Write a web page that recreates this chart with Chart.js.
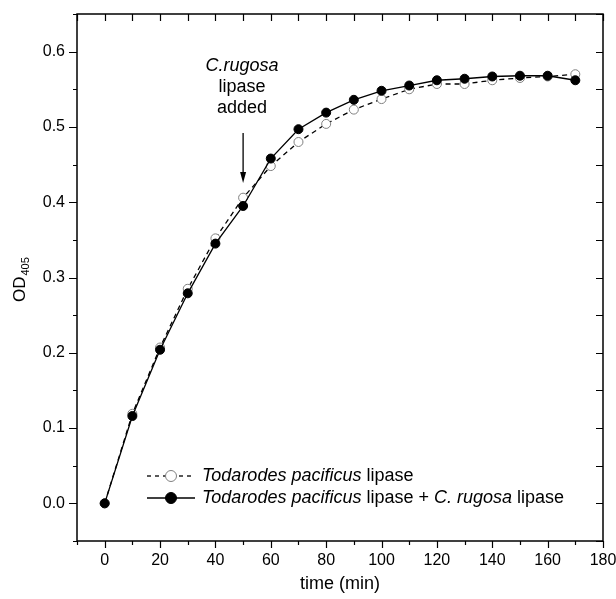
<!DOCTYPE html>
<html>
<head>
<meta charset="utf-8">
<script src="https://cdn.jsdelivr.net/npm/chart.js@4.4.0/dist/chart.umd.min.js"></script>
<style>
  html, body { margin: 0; padding: 0; background: #fff; }
</style>
</head>
<body>
<canvas id="odChart" width="616" height="599"></canvas>
<script>
  // time points (min)
  var times = [0, 10, 20, 30, 40, 50, 60, 70, 80, 90, 100, 110, 120, 130, 140, 150, 160, 170];
  // Todarodes pacificus lipase only
  var tpLipase = [0, 0.119, 0.207, 0.285, 0.352, 0.406, 0.448, 0.480, 0.504, 0.523, 0.537, 0.550, 0.557, 0.557, 0.562, 0.565, 0.567, 0.570];
  // Todarodes pacificus lipase + C. rugosa lipase
  var tpPlusCr = [0, 0.116, 0.204, 0.279, 0.345, 0.395, 0.458, 0.497, 0.519, 0.536, 0.548, 0.555, 0.562, 0.564, 0.567, 0.568, 0.568, 0.562];

  var xTicks = [0, 20, 40, 60, 80, 100, 120, 140, 160, 180];
  var yTicks = [0, 0.1, 0.2, 0.3, 0.4, 0.5, 0.6];
  var addedAt = 50; // time when C. rugosa lipase was added

  var FONT = "'Liberation Sans', Arial, sans-serif";

  function toPoints(ys) {
    return times.map(function(t, i) { return { x: t, y: ys[i] }; });
  }

  // frame + ticks like the original plot (outward bottom/left, inward top/right)
  var framePlugin = {
    id: 'frame',
    afterDraw: function(chart) {
      var ctx = chart.ctx;
      var xs = chart.scales.x, ys = chart.scales.y;
      var L = xs.getPixelForValue(xs.min), R = xs.getPixelForValue(xs.max);
      var T = ys.getPixelForValue(ys.max), B = ys.getPixelForValue(ys.min);
      ctx.save();
      ctx.strokeStyle = '#000';
      ctx.lineWidth = 1.5;
      ctx.strokeRect(L, T, R - L, B - T);
      ctx.lineWidth = 1.2;
      ctx.beginPath();
      for (var v = -10; v <= 180; v += 10) {
        var px = Math.round(xs.getPixelForValue(v)) + 0.5;
        var major = v % 20 === 0;
        ctx.moveTo(px, B); ctx.lineTo(px, B + (major ? 7 : 4));
        ctx.moveTo(px, T); ctx.lineTo(px, T + 7);
      }
      for (var k = -1; k <= 13; k++) {
        var val = k * 0.05;
        var py = Math.round(ys.getPixelForValue(val)) + 0.5;
        var maj = k % 2 === 0;
        ctx.moveTo(L, py); ctx.lineTo(L - (maj ? 8 : 4), py);
        ctx.moveTo(R, py); ctx.lineTo(R - 7, py);
      }
      ctx.stroke();

      // y axis title OD405
      ctx.fillStyle = '#000';
      ctx.translate(20, 302);
      ctx.rotate(-Math.PI / 2);
      ctx.font = '17px ' + FONT;
      ctx.textBaseline = 'middle';
      ctx.textAlign = 'left';
      ctx.fillText('OD', 0, 0);
      var w = ctx.measureText('OD').width;
      ctx.font = '11px ' + FONT;
      ctx.fillText('405', w + 1, 6);
      ctx.restore();
    }
  };

  function drawMixed(ctx, parts, x, y, size) {
    parts.forEach(function(p) {
      ctx.font = (p.i ? 'italic ' : '') + size + 'px ' + FONT;
      ctx.fillText(p.t, x, y);
      x += ctx.measureText(p.t).width;
    });
  }

  var legendRows = [
    { parts: [{ t: 'Todarodes pacificus', i: true }, { t: ' lipase' }], dash: [4, 4], fill: '#fff', stroke: '#808080' },
    { parts: [{ t: 'Todarodes pacificus', i: true }, { t: ' lipase + ' }, { t: 'C. rugosa', i: true }, { t: ' lipase' }], dash: [], fill: '#000', stroke: '#000' }
  ];

  var notesPlugin = {
    id: 'notes',
    afterDraw: function(chart) {
      var ctx = chart.ctx;
      ctx.save();
      ctx.fillStyle = '#000';
      ctx.textBaseline = 'middle';

      // legend
      legendRows.forEach(function(r, i) {
        var y = 476 + i * 22;
        ctx.strokeStyle = '#000';
        ctx.lineWidth = 1.3;
        ctx.setLineDash(r.dash);
        ctx.beginPath();
        ctx.moveTo(147, y); ctx.lineTo(195, y);
        ctx.stroke();
        ctx.setLineDash([]);
        ctx.beginPath();
        ctx.arc(171, y, 5.5, 0, Math.PI * 2);
        ctx.fillStyle = r.fill;
        ctx.fill();
        ctx.strokeStyle = r.stroke;
        ctx.lineWidth = 1;
        ctx.stroke();
        ctx.fillStyle = '#000';
        ctx.textAlign = 'left';
        drawMixed(ctx, r.parts, 202, y, 18);
      });

      // annotation
      var ax = chart.scales.x.getPixelForValue(addedAt);
      ctx.textAlign = 'center';
      ctx.font = 'italic 18px ' + FONT;
      ctx.fillText('C.rugosa', ax - 1, 66);
      ctx.font = '18px ' + FONT;
      ctx.fillText('lipase', ax - 1, 87);
      ctx.fillText('added', ax - 1, 108);
      ctx.strokeStyle = '#000';
      ctx.lineWidth = 1.3;
      ctx.beginPath();
      ctx.moveTo(ax, 133); ctx.lineTo(ax, 174);
      ctx.stroke();
      ctx.beginPath();
      ctx.moveTo(ax - 3, 172); ctx.lineTo(ax + 3, 172); ctx.lineTo(ax, 183);
      ctx.closePath();
      ctx.fill();
      ctx.restore();
    }
  };

  var odChart = new Chart(document.getElementById('odChart'), {
    type: 'line',
    data: {
      datasets: [{
        label: 'Todarodes pacificus lipase',
        data: toPoints(tpLipase),
        borderColor: '#000',
        borderWidth: 1.3,
        borderDash: [5, 4],
        pointRadius: 4.5,
        pointBorderWidth: 1,
        pointBorderColor: '#808080',
        pointBackgroundColor: '#fff',
        order: 1
      }, {
        label: 'Todarodes pacificus lipase + C. rugosa lipase',
        data: toPoints(tpPlusCr),
        borderColor: '#000',
        borderWidth: 1.3,
        pointRadius: 4.5,
        pointBorderWidth: 1,
        pointBorderColor: '#000',
        pointBackgroundColor: '#000',
        order: 0
      }]
    },
    options: {
      responsive: false,
      animation: false,
      layout: { padding: { top: 14, right: 13, left: 0, bottom: 0 } },
      plugins: { legend: { display: false }, tooltip: { enabled: false } },
      scales: {
        x: {
          type: 'linear',
          min: -10,
          max: 180,
          afterFit: function(s) { s.height = 58; s.paddingLeft = 0; s.paddingRight = 0; },
          afterBuildTicks: function(s) { s.ticks = xTicks.map(function(v) { return { value: v }; }); },
          grid: { display: false, drawTicks: false },
          border: { display: false },
          ticks: { color: '#000', font: { family: FONT, size: 16 }, padding: 10, maxRotation: 0, autoSkip: false },
          title: { display: true, text: 'time (min)', color: '#000', font: { family: FONT, size: 18 }, padding: { top: 0, bottom: 4 } }
        },
        y: {
          type: 'linear',
          min: -0.05,
          max: 0.65,
          afterFit: function(s) { s.width = 77; s.paddingTop = 0; s.paddingBottom = 0; },
          afterBuildTicks: function(s) { s.ticks = yTicks.map(function(v) { return { value: v }; }); },
          grid: { display: false, drawTicks: false },
          border: { display: false },
          ticks: {
            color: '#000', font: { family: FONT, size: 16 }, padding: 12,
            callback: function(v) { return v.toFixed(1); }
          }
        }
      }
    },
    plugins: [framePlugin, notesPlugin]
  });
</script>
</body>
</html>
